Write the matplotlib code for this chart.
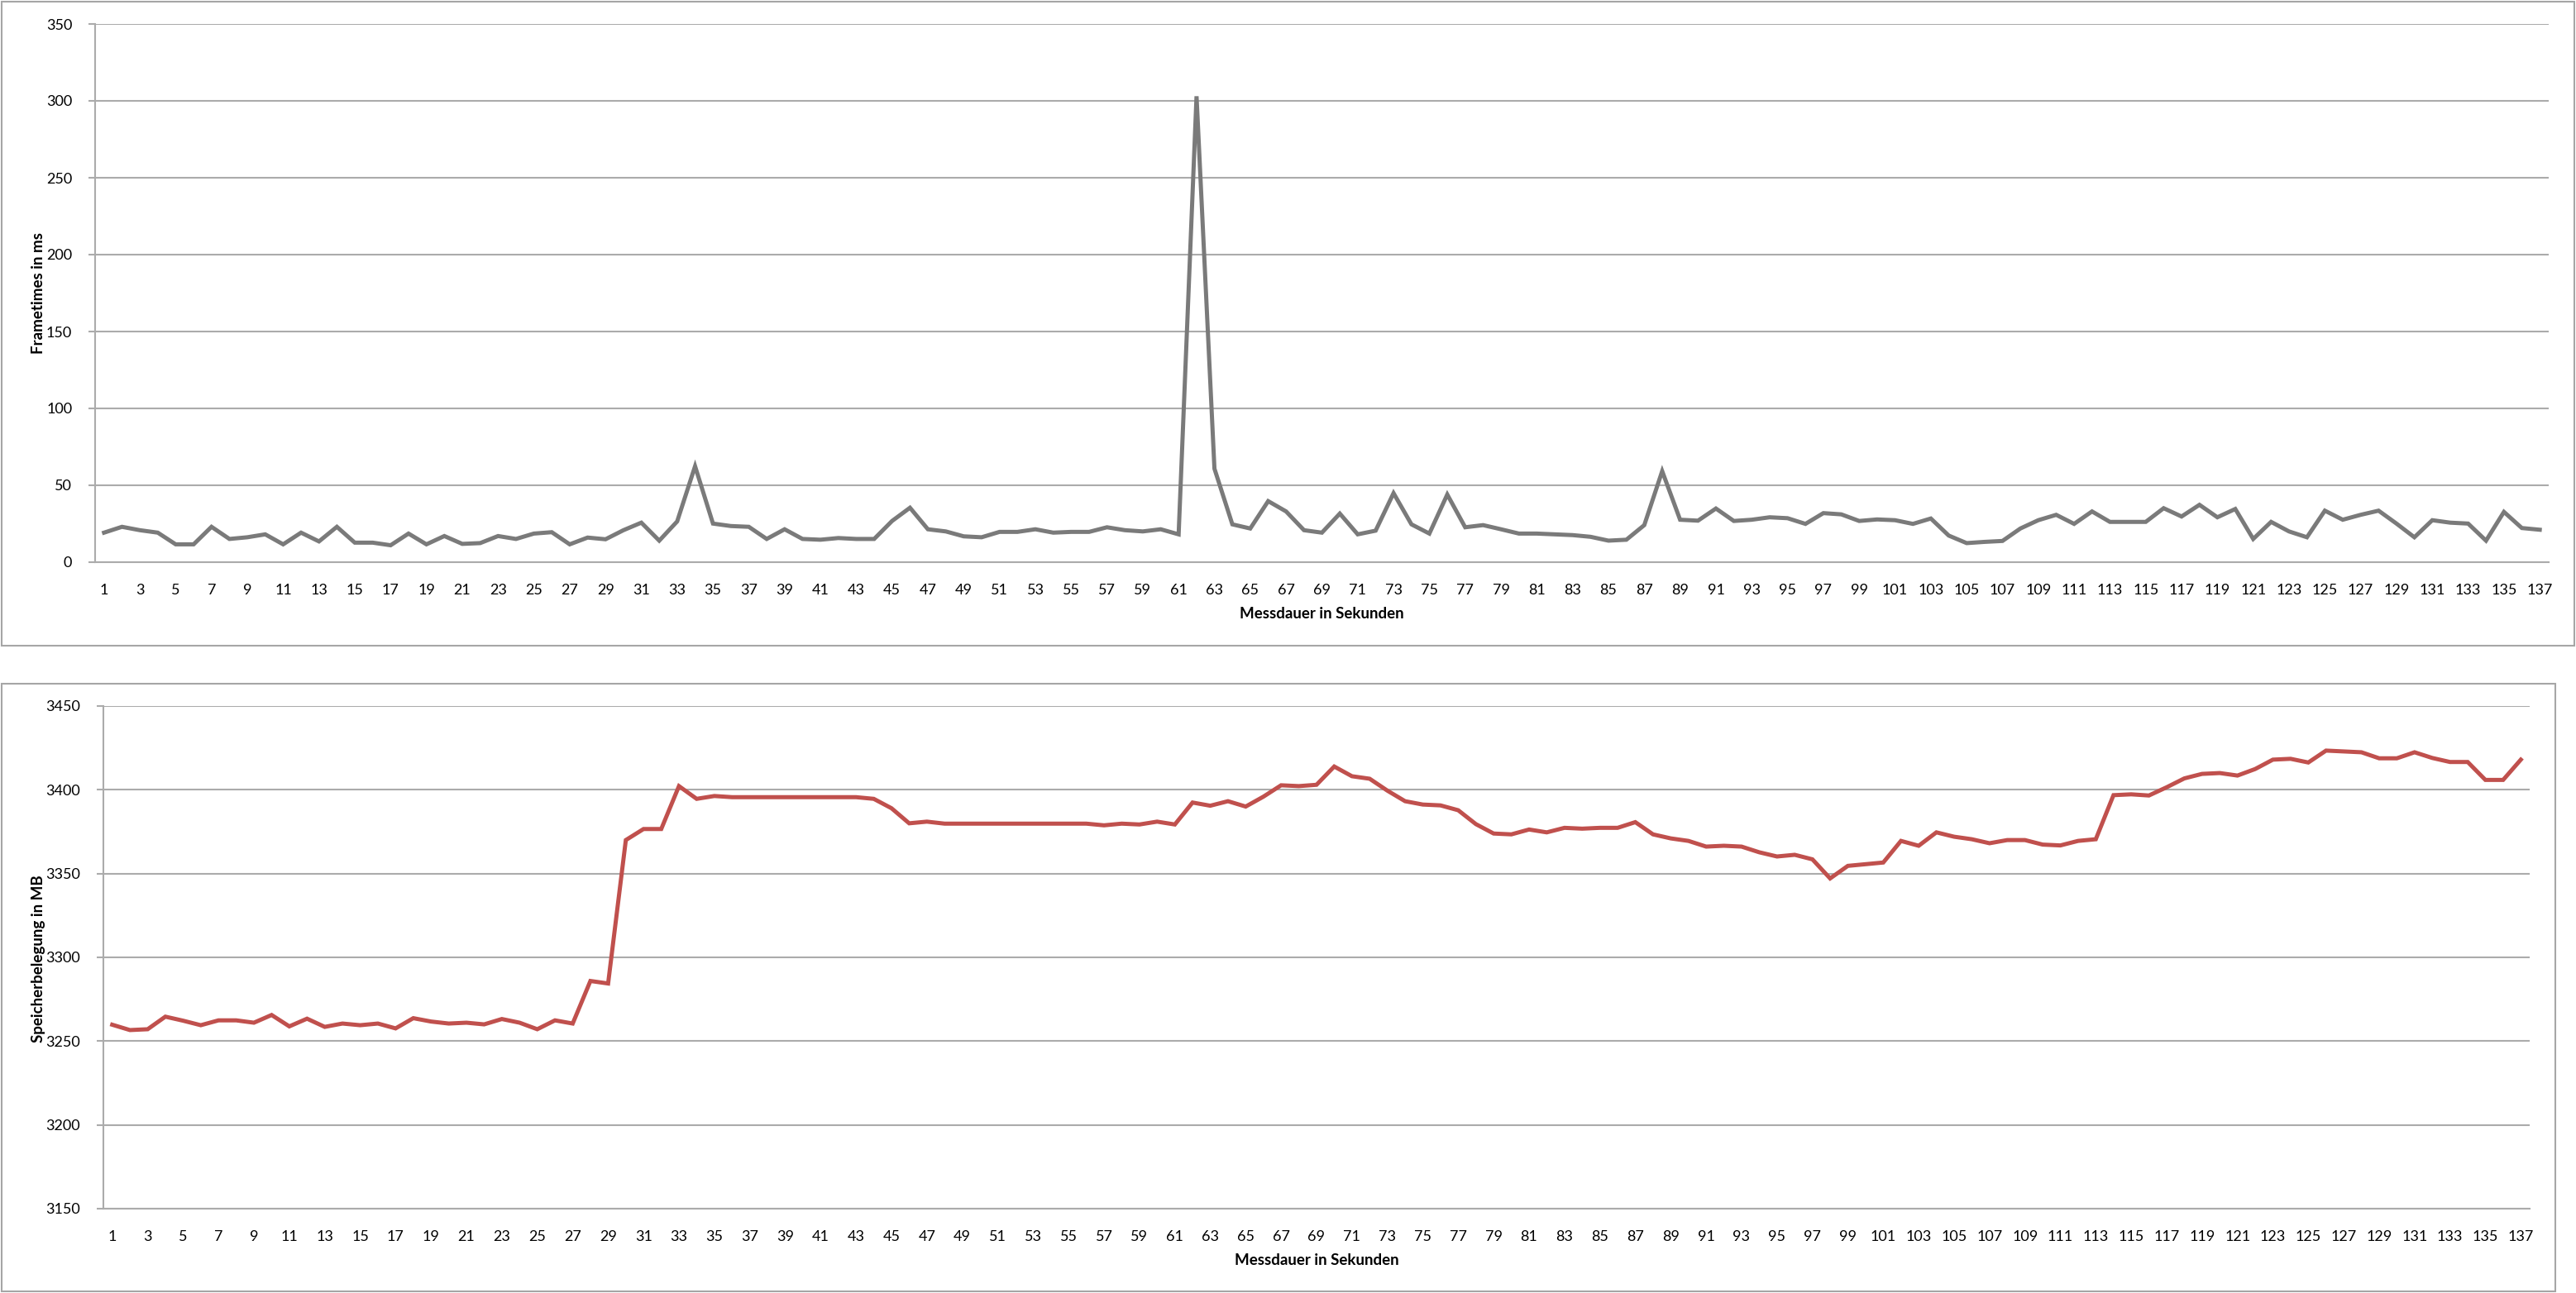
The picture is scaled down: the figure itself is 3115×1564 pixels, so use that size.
# Frametimes und Speicherbelegung ueber die Messdauer, zwei Diagramme untereinander
# im Stil eines Excel-Liniendiagramms.

import matplotlib.pyplot as plt
from matplotlib.patches import Rectangle
from matplotlib.ticker import MultipleLocator

seconds = list(range(1, 138))

frametimes_ms = [
    19.2, 23.0, 20.8, 19.2, 11.6, 11.6, 23.0, 15.1, 16.2, 18.1,
    11.6, 19.2, 13.5, 23.0, 12.7, 12.7, 11.0, 18.6, 11.6, 17.0,
    11.9, 12.4, 17.0, 15.1, 18.6, 19.5, 11.6, 16.0, 14.9, 20.8,
    25.7, 14.0, 26.5, 62.4, 25.1, 23.5, 23.0, 15.1, 21.4, 15.1,
    14.6, 15.7, 15.1, 15.1, 26.8, 35.4, 21.4, 20.0, 16.8, 16.2,
    19.7, 19.7, 21.4, 19.2, 19.7, 19.7, 22.7, 20.8, 20.0, 21.4,
    18.1, 303.0, 60.8, 24.6, 21.9, 39.7, 33.0, 20.8, 19.2, 31.6,
    18.1, 20.5, 44.9, 24.6, 18.6, 44.0, 22.7, 24.1, 21.4, 18.6,
    18.6, 18.1, 17.6, 16.5, 14.0, 14.6, 24.1, 59.2, 27.6, 27.0,
    34.9, 26.8, 27.6, 29.2, 28.6, 24.9, 31.9, 31.1, 26.8, 27.8,
    27.3, 24.9, 28.4, 17.3, 12.4, 13.2, 13.8, 21.9, 27.3, 30.8,
    24.9, 33.0, 26.2, 26.2, 26.2, 35.1, 29.7, 37.3, 29.2, 34.6,
    15.1, 26.2, 20.0, 16.2, 33.5, 27.6, 30.8, 33.5, 25.1, 16.2,
    27.3, 25.7, 25.1, 14.0, 32.7, 22.2, 21.1,
]

memory_mb = [
    3259.8, 3256.6, 3257.1, 3264.6, 3262.2, 3259.5, 3262.4, 3262.4, 3261.0, 3265.6,
    3258.8, 3263.4, 3258.5, 3260.5, 3259.5, 3260.5, 3257.6, 3263.7, 3261.7, 3260.5,
    3261.0, 3260.0, 3263.2, 3261.0, 3257.1, 3262.4, 3260.5, 3285.9, 3284.4, 3370.0,
    3376.6, 3376.6, 3402.2, 3394.6, 3396.3, 3395.6, 3395.6, 3395.6, 3395.6, 3395.6,
    3395.6, 3395.6, 3395.6, 3394.6, 3389.0, 3380.0, 3381.0, 3379.8, 3379.8, 3379.8,
    3379.8, 3379.8, 3379.8, 3379.8, 3379.8, 3379.8, 3378.8, 3379.8, 3379.3, 3381.0,
    3379.3, 3392.4, 3390.5, 3393.2, 3390.0, 3395.9, 3402.7, 3402.2, 3403.0, 3413.9,
    3408.1, 3406.6, 3399.5, 3393.2, 3391.2, 3390.7, 3387.8, 3379.5, 3373.9, 3373.4,
    3376.3, 3374.6, 3377.3, 3376.8, 3377.3, 3377.3, 3380.7, 3373.4, 3371.0, 3369.5,
    3366.1, 3366.6, 3366.1, 3362.7, 3360.2, 3361.2, 3358.5, 3347.1, 3354.6, 3355.6,
    3356.6, 3369.5, 3366.6, 3374.6, 3372.0, 3370.5, 3368.1, 3370.0, 3370.0, 3367.3,
    3366.8, 3369.5, 3370.5, 3396.8, 3397.3, 3396.6, 3401.5, 3406.8, 3409.5, 3410.0,
    3408.5, 3412.4, 3418.0, 3418.5, 3416.3, 3423.4, 3422.9, 3422.4, 3418.8, 3418.8,
    3422.4, 3419.0, 3416.6, 3416.6, 3405.9, 3405.9, 3418.0,
]

x_label = "Messdauer in Sekunden"
y_label_top = "Frametimes in ms"
y_label_bottom = "Speicherbelegung in MB"

W, H = 3115, 1564
GRID_GREY = "#ababab"
LINE_GREY = "#7a7a7a"
LINE_RED = "#c0504d"


def px_rect(left, top, right, bottom):
    # Pixel box (from top-left) to figure fraction [x, y, w, h].
    return [left / W, 1 - bottom / H, (right - left) / W, (bottom - top) / H]


def style_axes(ax, y_min, y_max, y_step):
    ax.set_xlim(0.5, len(seconds) + 0.5)
    ax.set_ylim(y_min, y_max)
    ax.yaxis.set_major_locator(MultipleLocator(y_step))
    ax.set_xticks(seconds[::2])
    ax.set_xticklabels([str(s) for s in seconds[::2]])
    ax.grid(axis="y", color=GRID_GREY, linewidth=1.5)
    ax.set_axisbelow(True)
    for side in ("top", "right"):
        ax.spines[side].set_visible(False)
    for side in ("left", "bottom"):
        ax.spines[side].set_color(GRID_GREY)
        ax.spines[side].set_linewidth(1.5)
    ax.tick_params(axis="x", length=0, pad=19, labelsize=13)
    ax.tick_params(axis="y", length=6, width=1.5, color=GRID_GREY, pad=14, labelsize=13)


def main() -> None:
    plt.rcParams["font.family"] = ["Lato", "DejaVu Sans"]

    fig = plt.figure(figsize=(W / 100, H / 100), dpi=100)

    # Outer frames around each chart.
    for left, top, right, bottom in [(2, 2, 3113, 781), (2, 827, 3090, 1562)]:
        x, y, w, h = px_rect(left, top, right, bottom)
        fig.patches.append(
            Rectangle((x, y), w, h, transform=fig.transFigure, fill=False,
                      edgecolor="#a6a6a6", linewidth=1.5)
        )

    # Frametimes.
    ax_top = fig.add_axes(px_rect(115, 29, 3082, 680))
    ax_top.plot(seconds, frametimes_ms, color=LINE_GREY, linewidth=3.6,
                solid_joinstyle="miter")
    style_axes(ax_top, 0, 350, 50)
    fig.text(47 / W, 1 - 355 / H, y_label_top, rotation=90, ha="center",
             va="center", fontsize=13.5, fontweight="bold")
    fig.text(1598 / W, 1 - 742 / H, x_label, ha="center", va="center",
             fontsize=13.5, fontweight="bold")

    # Speicherbelegung.
    ax_bottom = fig.add_axes(px_rect(125, 854, 3059, 1462))
    ax_bottom.plot(seconds, memory_mb, color=LINE_RED, linewidth=3.6,
                   solid_joinstyle="miter")
    style_axes(ax_bottom, 3150, 3450, 50)
    fig.text(47 / W, 1 - 1160 / H, y_label_bottom, rotation=90, ha="center",
             va="center", fontsize=13.5, fontweight="bold")
    fig.text(1592 / W, 1 - 1524 / H, x_label, ha="center", va="center",
             fontsize=13.5, fontweight="bold")

    fig.savefig("out.png", dpi=100, facecolor="white")


if __name__ == "__main__":
    main()
